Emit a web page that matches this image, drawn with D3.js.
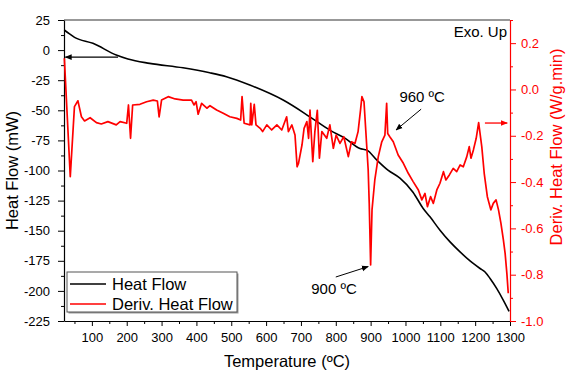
<!DOCTYPE html>
<html>
<head>
<meta charset="utf-8">
<script src="https://cdn.jsdelivr.net/npm/d3@7"></script>
<style>
  body { margin: 0; background: #fff; }
  text { font-family: "Liberation Sans", Arial, sans-serif; }
</style>
</head>
<body>
<div id="chart"></div>
<script>
// Heat flow (left axis, mW)
const hfTemp = [20.7, 35.9, 50.3, 102.9, 170.1, 203.4, 265.8, 361.5, 438.2, 486.2, 553.2, 648.9, 725.6, 783.0, 826.1, 869.3, 889.4, 918.1, 949.7, 984.2, 1021.6, 1050.3, 1070.4, 1099.1, 1127.9, 1156.6, 1185.3, 1214.1, 1228.4, 1242.8, 1262.1, 1281.0, 1297.4];
const hfValue = [16.7, 13.4, 10.6, 5.6, -4.1, -7.4, -11.0, -14.7, -18.8, -22.1, -29.0, -41.5, -55.4, -66.5, -73.1, -81.7, -83.1, -91.4, -99.7, -106.4, -118.0, -131.3, -138.5, -149.6, -159.3, -167.6, -175.1, -181.4, -184.3, -189.7, -198.1, -207.8, -217.0];

// Derivative heat flow (right axis, W/g.min)
const dTemp = [21, 38, 50, 60, 70, 79, 95, 113, 127, 146, 170, 181, 200, 205, 211, 217, 238, 257, 276, 288, 293, 300, 319, 339, 362, 386, 393, 399, 405, 415, 430, 439, 458, 477, 496, 516, 527, 531, 537, 554, 556, 559, 566, 571, 583, 590, 602, 616, 631, 645, 659, 664, 674, 683, 689, 693, 703, 709, 717, 722, 726, 734, 740, 747, 753, 760, 774, 783, 793, 801, 812, 823, 836, 845, 855, 864, 871, 875, 881, 886, 893, 896, 900, 904, 912, 922, 932, 941, 946, 949, 955, 965, 979, 994, 1008, 1022, 1037, 1047, 1056, 1063, 1072, 1080, 1090, 1099, 1109, 1116, 1126, 1137, 1147, 1157, 1166, 1176, 1183, 1188, 1195, 1203, 1210, 1219, 1226, 1235, 1245, 1252, 1260, 1267, 1274, 1281, 1286, 1291, 1295];
const dValue = [0.135, -0.377, -0.074, -0.049, -0.118, -0.136, -0.122, -0.143, -0.149, -0.139, -0.153, -0.139, -0.146, -0.067, -0.211, -0.067, -0.064, -0.053, -0.046, -0.050, -0.118, -0.046, -0.031, -0.041, -0.046, -0.046, -0.067, -0.053, -0.107, -0.060, -0.081, -0.070, -0.089, -0.103, -0.118, -0.125, -0.132, -0.031, -0.146, -0.153, -0.060, -0.153, -0.064, -0.153, -0.168, -0.182, -0.153, -0.175, -0.153, -0.175, -0.118, -0.182, -0.153, -0.197, -0.334, -0.319, -0.240, -0.168, -0.139, -0.211, -0.089, -0.312, -0.182, -0.090, -0.297, -0.182, -0.211, -0.153, -0.254, -0.197, -0.233, -0.204, -0.290, -0.226, -0.233, -0.182, -0.089, -0.031, -0.053, -0.175, -0.348, -0.492, -0.758, -0.520, -0.391, -0.290, -0.226, -0.197, -0.060, -0.190, -0.204, -0.226, -0.283, -0.319, -0.362, -0.398, -0.434, -0.477, -0.449, -0.506, -0.463, -0.492, -0.434, -0.405, -0.355, -0.391, -0.369, -0.341, -0.355, -0.326, -0.334, -0.290, -0.247, -0.297, -0.261, -0.211, -0.143, -0.247, -0.362, -0.463, -0.520, -0.492, -0.477, -0.520, -0.578, -0.650, -0.708, -0.794, -0.880];

const xTicks = [100, 200, 300, 400, 500, 600, 700, 800, 900, 1000, 1100, 1200, 1300];
const leftTicks = [25, 0, -25, -50, -75, -100, -125, -150, -175, -200, -225];
const rightTicks = [0.2, 0.0, -0.2, -0.4, -0.6, -0.8, -1.0];

const width = 568, height = 370;
const margin = { top: 20, left: 64, bottom: 49, right: 58 };
const red = "#ff0000";
const font = "Liberation Sans, Arial, sans-serif";

const svg = d3.select("#chart").append("svg")
  .attr("width", width)
  .attr("height", height);

const x = d3.scaleLinear().domain([20, 1300]).range([margin.left, width - margin.right]);
const yL = d3.scaleLinear().domain([-225, 25]).range([height - margin.bottom, margin.top]);
const yR = d3.scaleLinear().domain([-1.0, 0.3]).range([height - margin.bottom, margin.top]);

// arrow heads
const defs = svg.append("defs");
[["arrowBlack", "#000"], ["arrowRed", red]].forEach(([id, c]) => {
  defs.append("marker")
    .attr("id", id)
    .attr("viewBox", "0 0 10 10")
    .attr("refX", 9).attr("refY", 5)
    .attr("markerWidth", 7).attr("markerHeight", 7)
    .attr("markerUnits", "userSpaceOnUse")
    .attr("orient", "auto")
    .append("path")
    .attr("d", "M0,1 L10,5 L0,9 Z")
    .attr("fill", c);
});

// top frame
svg.append("line")
  .attr("x1", margin.left).attr("x2", width - margin.right)
  .attr("y1", margin.top).attr("y2", margin.top)
  .attr("stroke", "#333").attr("stroke-width", 1.2);

// X axis
const xAxis = svg.append("g")
  .attr("transform", `translate(0,${height - margin.bottom})`)
  .call(d3.axisBottom(x).tickValues(xTicks).tickFormat(d3.format("d")).tickSize(5).tickPadding(7).tickSizeOuter(0));
svg.append("g")
  .attr("transform", `translate(0,${height - margin.bottom})`)
  .call(d3.axisBottom(x).tickValues(d3.range(50, 1300, 100)).tickSize(3).tickFormat("").tickSizeOuter(0))
  .select(".domain").remove();
xAxis.selectAll("text").attr("font-size", "13px").attr("font-family", font);
xAxis.select(".domain").attr("stroke-width", 1.2);

// Left axis
const leftAxis = svg.append("g")
  .attr("transform", `translate(${margin.left},0)`)
  .call(d3.axisLeft(yL).tickValues(leftTicks).tickSize(6).tickPadding(8).tickSizeOuter(0));
svg.append("g")
  .attr("transform", `translate(${margin.left},0)`)
  .call(d3.axisLeft(yL).tickValues(d3.range(12.5, -225, -25)).tickSize(3).tickFormat("").tickSizeOuter(0))
  .select(".domain").remove();
leftAxis.selectAll("text").attr("font-size", "13px").attr("font-family", font).text(d => String(d));
leftAxis.select(".domain").attr("stroke-width", 1.2);

// Right axis
const rightAxis = svg.append("g")
  .attr("transform", `translate(${width - margin.right},0)`)
  .call(d3.axisRight(yR).tickValues(rightTicks).tickSize(6).tickPadding(5).tickSizeOuter(0));
svg.append("g")
  .attr("transform", `translate(${width - margin.right},0)`)
  .call(d3.axisRight(yR).tickValues([0.3, 0.1, -0.1, -0.3, -0.5, -0.7, -0.9]).tickSize(3).tickFormat("").tickSizeOuter(0))
  .call(g => g.select(".domain").remove())
  .selectAll("line").attr("stroke", red);
rightAxis.select(".domain").attr("stroke", red).attr("stroke-width", 1.2);
rightAxis.selectAll("line").attr("stroke", red);
rightAxis.selectAll("text")
  .attr("fill", red)
  .attr("font-size", "13px")
  .attr("font-family", font)
  .text(d => d.toFixed(1));

// Axis titles
svg.append("text")
  .attr("x", (margin.left + width - margin.right) / 2)
  .attr("y", 367)
  .attr("text-anchor", "middle")
  .attr("font-size", "16.5px")
  .text("Temperature (ºC)");

svg.append("text")
  .attr("transform", `translate(18,${(margin.top + height - margin.bottom) / 2}) rotate(-90)`)
  .attr("text-anchor", "middle")
  .attr("font-size", "16.5px")
  .text("Heat Flow (mW)");

svg.append("text")
  .attr("transform", `translate(562,147) rotate(-90)`)
  .attr("text-anchor", "middle")
  .attr("font-size", "16.5px")
  .attr("fill", red)
  .text("Deriv. Heat Flow (W/g.min)");

svg.append("text")
  .attr("x", 507)
  .attr("y", 37)
  .attr("text-anchor", "end")
  .attr("font-size", "15px")
  .text("Exo. Up");

// Lines
const hfData = hfTemp.map((t, i) => ({ t: t, v: hfValue[i] }));
const dData = dTemp.map((t, i) => ({ t: t, v: dValue[i] }));

svg.append("path")
  .datum(hfData)
  .attr("fill", "none")
  .attr("stroke", "#000")
  .attr("stroke-width", 1.6)
  .attr("d", d3.line().x(d => x(d.t)).y(d => yL(d.v)).curve(d3.curveMonotoneX));

svg.append("path")
  .datum(dData)
  .attr("fill", "none")
  .attr("stroke", red)
  .attr("stroke-width", 1.7)
  .attr("stroke-linejoin", "round")
  .attr("d", d3.line().x(d => x(d.t)).y(d => yR(d.v)));

// Annotations
svg.append("line")
  .attr("x1", x(175)).attr("y1", yL(-5.8))
  .attr("x2", x(24)).attr("y2", yL(-5.8))
  .attr("stroke", "#000").attr("stroke-width", 1.3)
  .attr("marker-end", "url(#arrowBlack)");

svg.append("line")
  .attr("x1", x(1228)).attr("y1", yR(-0.145))
  .attr("x2", x(1292)).attr("y2", yR(-0.145))
  .attr("stroke", red).attr("stroke-width", 1.3)
  .attr("marker-end", "url(#arrowRed)");

svg.append("line")
  .attr("x1", x(1045)).attr("y1", yR(-0.085))
  .attr("x2", x(973)).attr("y2", yR(-0.175))
  .attr("stroke", "#000").attr("stroke-width", 1)
  .attr("marker-end", "url(#arrowBlack)");

svg.append("text")
  .attr("x", x(1048)).attr("y", yR(-0.054))
  .attr("text-anchor", "middle")
  .attr("font-size", "15px")
  .text("960 ºC");

svg.append("line")
  .attr("x1", x(800)).attr("y1", yR(-0.81))
  .attr("x2", x(893)).attr("y2", yR(-0.765))
  .attr("stroke", "#000").attr("stroke-width", 1)
  .attr("marker-end", "url(#arrowBlack)");

svg.append("text")
  .attr("x", x(795)).attr("y", yR(-0.883))
  .attr("text-anchor", "middle")
  .attr("font-size", "15px")
  .text("900 ºC");

// Legend
const legend = svg.append("g").attr("transform", "translate(67,272)");
legend.append("rect")
  .attr("x", 1.5).attr("y", 1.5)
  .attr("width", 170).attr("height", 40)
  .attr("fill", "#999");
legend.append("rect")
  .attr("width", 170).attr("height", 40)
  .attr("fill", "#fff")
  .attr("stroke", "#555").attr("stroke-width", 1);

const legendItems = [["Heat Flow", "#000"], ["Deriv. Heat Flow", red]];
legendItems.forEach(([label, c], i) => {
  legend.append("line")
    .attr("x1", 3).attr("x2", 39)
    .attr("y1", 12 + i * 20).attr("y2", 12 + i * 20)
    .attr("stroke", c).attr("stroke-width", 1.6);
  legend.append("text")
    .attr("x", 45).attr("y", 18 + i * 20)
    .attr("font-size", "16.5px")
    .text(label);
});
</script>
</body>
</html>
